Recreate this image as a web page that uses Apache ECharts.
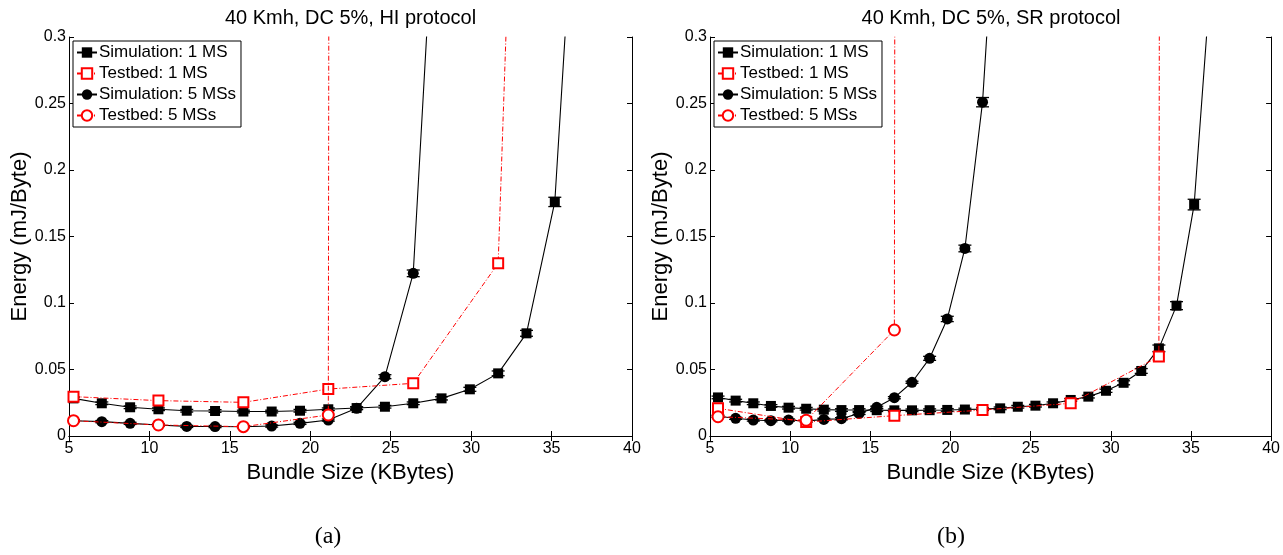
<!DOCTYPE html>
<html><head><meta charset="utf-8">
<script src="https://cdn.jsdelivr.net/npm/echarts@6/dist/echarts.min.js"></script>
<style>html,body{margin:0;padding:0;background:#fff}#c{width:1283px;height:555px}</style>
</head><body><div id="c"></div>
<script>
// ---------- texts ----------
const titles = ['40 Kmh, DC 5%, HI protocol', '40 Kmh, DC 5%, SR protocol'];
const captions = ['(a)', '(b)'];
const seriesNames = ['Simulation: 1 MS', 'Testbed: 1 MS', 'Simulation: 5 MSs', 'Testbed: 5 MSs'];
const xName = 'Bundle Size (KBytes)';
const yName = 'Energy (mJ/Byte)';
const xTicks = [5, 10, 15, 20, 25, 30, 35, 40];
const yTicks = [0, 0.05, 0.1, 0.15, 0.2, 0.25, 0.3];

// ---------- (a) HI protocol ----------
const hiSimX = [5.28, 7.04, 8.80, 10.56, 12.32, 14.08, 15.84, 17.60, 19.36, 21.12, 22.88, 24.64, 26.40, 28.16, 29.92, 31.68, 33.44, 35.20, 36.96];
const hiSim1 = [0.0283, 0.0246, 0.0216, 0.0201, 0.019, 0.0188, 0.0184, 0.0184, 0.019, 0.0201, 0.021, 0.022, 0.0246, 0.0283, 0.0351, 0.0471, 0.0772, 0.176, 0.52];
const hiSim1Err = [0.001, 0.001, 0.001, 0.001, 0.001, 0.001, 0.001, 0.001, 0.001, 0.001, 0.001, 0.001, 0.001, 0.0012, 0.0015, 0.0018, 0.0022, 0.0035, 0.008];
const hiSim5 = [0.0115, 0.0108, 0.0095, 0.0083, 0.0072, 0.0071, 0.007, 0.0075, 0.0095, 0.012, 0.0208, 0.0446, 0.1223, 0.5];
const hiSim5Err = [0.0008, 0.0008, 0.0008, 0.0008, 0.0008, 0.0008, 0.0008, 0.0008, 0.0008, 0.0008, 0.001, 0.0015, 0.0025, 0.008];
const hiTestX = [5.28, 10.56, 15.84, 21.12, 26.40, 31.68, 36.96];
const hiTest1 = [0.0296, 0.0266, 0.0253, 0.0353, 0.0396, 0.1298, 2.0];
const hiTest5 = [0.0115, 0.0083, 0.007, 0.0158, 50];

// ---------- (b) SR protocol ----------
const srSimX = [5.5, 6.6, 7.7, 8.8, 9.9, 11.0, 12.1, 13.2, 14.3, 15.4, 16.5, 17.6, 18.7, 19.8, 20.9, 22.0, 23.1, 24.2, 25.3, 26.4, 27.5, 28.6, 29.7, 30.8, 31.9, 33.0, 34.1, 35.2, 36.3];
const srSim1 = [0.029, 0.0266, 0.0246, 0.0226, 0.0213, 0.0205, 0.0198, 0.0195, 0.0195, 0.0194, 0.0193, 0.0193, 0.0194, 0.0196, 0.0199, 0.0202, 0.0208, 0.022, 0.0228, 0.0246, 0.0271, 0.0296, 0.034, 0.040, 0.0489, 0.0659, 0.098, 0.174, 0.354];
const srSim1Err = [0.001, 0.001, 0.001, 0.001, 0.001, 0.001, 0.001, 0.001, 0.001, 0.001, 0.001, 0.001, 0.001, 0.001, 0.001, 0.001, 0.001, 0.001, 0.001, 0.001, 0.001, 0.001, 0.0012, 0.0015, 0.0018, 0.0025, 0.003, 0.004, 0.008];
const srSim5 = [0.0148, 0.0133, 0.012, 0.0115, 0.012, 0.0112, 0.0125, 0.013, 0.017, 0.0216, 0.0288, 0.0404, 0.0584, 0.088, 0.141, 0.251, 0.46];
const srSim5Err = [0.0008, 0.0008, 0.0008, 0.0008, 0.0008, 0.0008, 0.0008, 0.0008, 0.0008, 0.0008, 0.0008, 0.0008, 0.0015, 0.002, 0.0025, 0.0035, 0.008];
const srTestX = [5.5, 11.0, 16.5, 22.0, 27.5, 33.0, 38.5];
const srTest1 = [0.0208, 0.0105, 0.0153, 0.0195, 0.0246, 0.0597, 50];
const srTest5 = [0.0145, 0.0118, 0.0797, 50];

// ---------- build ----------
const SANS = '"Liberation Sans", Arial, Helvetica, sans-serif';
const SERIF = '"Liberation Serif", "Times New Roman", serif';
const panels = [
  {left: 69, width: 563, sim: [hiSimX, hiSim1, hiSim1Err, hiSim5, hiSim5Err], test: [hiTestX, hiTest1, hiTest5]},
  {left: 710, width: 562, sim: [srSimX, srSim1, srSim1Err, srSim5, srSim5Err], test: [srTestX, srTest1, srTest5]}
];
const TOP = 37, HEIGHT = 399;

const pairs = (xs, ys) => ys.map((y, i) => [xs[i], y]);
const dashDot = [5, 2, 1, 2];

const grid = [], xAxis = [], yAxis = [], series = [], legend = [], graphic = [];

panels.forEach((p, k) => {
  grid.push({left: p.left, top: TOP, width: p.width, height: HEIGHT, containLabel: false});
  const xBase = {type: 'value', gridIndex: k, min: xTicks[0], max: xTicks[xTicks.length - 1], interval: 5,
    axisLine: {show: true, lineStyle: {color: '#000', width: 1}},
    axisTick: {show: true, inside: true, length: 5, lineStyle: {color: '#000'}},
    splitLine: {show: false}};
  const yBase = {type: 'value', gridIndex: k, min: yTicks[0], max: yTicks[yTicks.length - 1], interval: 0.05,
    axisLine: {show: true, lineStyle: {color: '#000', width: 1}},
    axisTick: {show: true, inside: true, length: 5, lineStyle: {color: '#000'}},
    splitLine: {show: false}};
  xAxis.push(Object.assign({}, xBase, {position: 'bottom', name: xName, nameLocation: 'middle', nameGap: 20,
    nameTextStyle: {fontSize: 22, color: '#000', fontFamily: SANS, verticalAlign: 'top'},
    axisLabel: {show: true, fontSize: 16, color: '#000', fontFamily: SANS, margin: 5}}));
  xAxis.push(Object.assign({}, xBase, {position: 'top', axisLabel: {show: false}}));
  yAxis.push(Object.assign({}, yBase, {position: 'left', name: yName, nameLocation: 'middle', nameGap: 38,
    nameTextStyle: {fontSize: 22, color: '#000', fontFamily: SANS},
    axisLabel: {show: true, fontSize: 16, color: '#000', fontFamily: SANS, margin: 3}}));
  yAxis.push(Object.assign({}, yBase, {position: 'right', axisLabel: {show: false}}));

  const xi = 2 * k, yi = 2 * k;
  const [sx, s1, s1e, s5, s5e] = p.sim;
  const [tx, t1, t5] = p.test;

  const errSeries = (ys, es) => ({
    type: 'custom', xAxisIndex: xi, yAxisIndex: yi, clip: true, silent: true, z: 3,
    data: ys.map((y, i) => [sx[i], y, es[i]]),
    renderItem: (params, api) => {
      const x = api.value(0), y = api.value(1), e = api.value(2);
      const lo = api.coord([x, y - e]), hi = api.coord([x, y + e]);
      const w = 6.5;
      return {type: 'group', children: [
        {type: 'line', shape: {x1: lo[0], y1: lo[1], x2: hi[0], y2: hi[1]}, style: {stroke: '#000', lineWidth: 1}},
        {type: 'line', shape: {x1: lo[0] - w, y1: lo[1], x2: lo[0] + w, y2: lo[1]}, style: {stroke: '#000', lineWidth: 1.3}},
        {type: 'line', shape: {x1: hi[0] - w, y1: hi[1], x2: hi[0] + w, y2: hi[1]}, style: {stroke: '#000', lineWidth: 1.3}}
      ]};
    }
  });

  series.push({name: seriesNames[0], type: 'line', xAxisIndex: xi, yAxisIndex: yi, data: pairs(sx, s1),
    symbol: 'rect', symbolSize: 10, itemStyle: {color: '#000'}, lineStyle: {color: '#000', width: 1.1}, z: 4, clip: true});
  series.push(errSeries(s1, s1e));
  series.push({name: seriesNames[1], type: 'line', xAxisIndex: xi, yAxisIndex: yi, data: pairs(tx, t1),
    symbol: 'emptyRect', symbolSize: 10, itemStyle: {color: '#ff0000', borderWidth: 1}, lineStyle: {color: '#ff0000', width: 1, type: dashDot}, z: 5, clip: true});
  series.push({name: seriesNames[2], type: 'line', xAxisIndex: xi, yAxisIndex: yi, data: pairs(sx, s5),
    symbol: 'circle', symbolSize: 11, itemStyle: {color: '#000'}, lineStyle: {color: '#000', width: 1.1}, z: 4, clip: true});
  series.push(errSeries(s5, s5e));
  series.push({name: seriesNames[3], type: 'line', xAxisIndex: xi, yAxisIndex: yi, data: pairs(tx, t5),
    symbol: 'emptyCircle', symbolSize: 11, itemStyle: {color: '#ff0000', borderWidth: 1}, lineStyle: {color: '#ff0000', width: 1, type: dashDot}, z: 6, clip: true});

  legend.push({data: seriesNames, orient: 'vertical', left: p.left + 4, top: TOP + 4,
    backgroundColor: '#fff', borderColor: '#000', borderWidth: 1, padding: [3, 5, 3, 3],
    itemGap: 4, itemWidth: 20, itemHeight: 13, selectedMode: false,
    textStyle: {fontSize: 17, color: '#000', fontFamily: SANS, padding: [0, 0, 0, -3]}});

  graphic.push({type: 'text', x: p.left + p.width / 2, y: 18, style: {text: titles[k], font: '20px ' + SANS, fill: '#000', textAlign: 'center', textVerticalAlign: 'middle'}});
});

graphic.push({type: 'text', x: 328, y: 537, style: {text: captions[0], font: '24px ' + SERIF, fill: '#000', textAlign: 'center', textVerticalAlign: 'middle'}});
graphic.push({type: 'text', x: 951, y: 537, style: {text: captions[1], font: '24px ' + SERIF, fill: '#000', textAlign: 'center', textVerticalAlign: 'middle'}});

const chart = echarts.init(document.getElementById('c'), null, {renderer: 'canvas'});
chart.setOption({animation: false, backgroundColor: '#fff', grid, xAxis, yAxis, series, legend, graphic});
</script>
</body></html>
